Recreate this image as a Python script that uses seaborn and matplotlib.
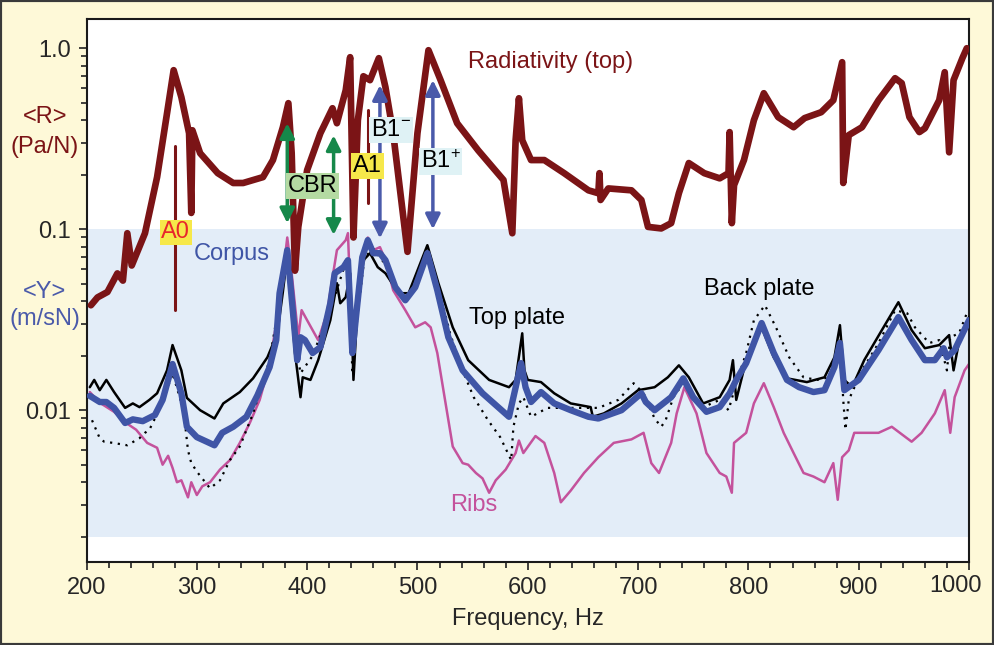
import matplotlib
matplotlib.use("Agg")
import matplotlib.pyplot as plt
import matplotlib.ticker as mticker
import matplotlib.transforms as mtransforms
from matplotlib.patches import Rectangle
import seaborn as sns

# Radiativity of the top plate, <R> in Pa/N
freq_rad = [204, 210, 219, 228, 233, 237, 241, 253, 264, 273, 279, 286, 293, 295, 296, 303, 319, 333, 342, 360,
            369, 378, 383, 386, 389, 392, 400, 412, 423, 427, 435, 439, 442, 446, 451, 457, 465, 471, 478, 491,
            500, 510, 521, 536, 555, 578, 586, 589, 592, 595, 603, 615, 633, 655, 664, 665, 666, 673, 694, 703,
            709, 721, 730, 737, 746, 760, 774, 782, 783, 785, 787, 796, 805, 814, 827, 841, 851, 866, 877, 885,
            886, 891, 903, 918, 933, 939, 946, 955, 960, 973, 978, 982, 986, 994, 998]
rad = [0.038, 0.042, 0.045, 0.057, 0.052, 0.095, 0.063, 0.095, 0.194, 0.437, 0.756, 0.536, 0.339, 0.123, 0.352,
       0.263, 0.204, 0.180, 0.180, 0.194, 0.241, 0.366, 0.497, 0.263, 0.059, 0.103, 0.212, 0.339, 0.466, 0.385,
       0.586, 0.892, 0.090, 0.40, 0.70, 0.666, 0.881, 0.609, 0.339, 0.075, 0.339, 0.975, 0.666, 0.385, 0.273,
       0.187, 0.095, 0.310, 0.529, 0.310, 0.241, 0.241, 0.204, 0.164, 0.158, 0.204, 0.145, 0.168, 0.164, 0.145,
       0.103, 0.101, 0.108, 0.158, 0.232, 0.204, 0.191, 0.204, 0.344, 0.108, 0.175, 0.241, 0.40, 0.564, 0.416,
       0.366, 0.411, 0.443, 0.516, 0.837, 0.180, 0.331, 0.366, 0.516, 0.683, 0.641, 0.416, 0.344, 0.361, 0.516,
       0.737, 0.266, 0.666, 0.881, 1.0]

# Mobilities <Y> in m/sN
freq_corpus = [203, 212, 218, 225, 235, 242, 251, 262, 269, 278, 286, 291, 300, 309, 316, 323, 333, 345, 355, 366,
               372, 375, 382, 387, 391, 394, 398, 405, 412, 421, 425, 433, 437, 441, 444, 450, 455, 460, 466, 471,
               480, 489, 498, 509, 518, 528, 541, 559, 583, 594, 598, 603, 612, 624, 639, 655, 664, 685, 703, 707,
               715, 730, 741, 750, 762, 774, 783, 789, 798, 812, 823, 835, 846, 859, 869, 878, 883, 887, 900, 918,
               936, 948, 960, 969, 977, 980, 987, 1000]
corpus = [0.0120, 0.0111, 0.0111, 0.0103, 0.0085, 0.0089, 0.0087, 0.0094, 0.0114, 0.0180, 0.0124, 0.0081, 0.0071,
          0.0067, 0.0064, 0.0075, 0.0081, 0.0092, 0.0121, 0.0173, 0.0244, 0.0443, 0.0766, 0.0357, 0.0189, 0.0253,
          0.0244, 0.0207, 0.0223, 0.039, 0.0571, 0.0617, 0.0674, 0.0207, 0.0314, 0.070, 0.087, 0.0737, 0.0737,
          0.0674, 0.0478, 0.0405, 0.0478, 0.0737, 0.046, 0.0253, 0.0166, 0.0124, 0.0092, 0.0182, 0.0134, 0.0111,
          0.0126, 0.0109, 0.010, 0.0092, 0.0090, 0.010, 0.0124, 0.0111, 0.010, 0.0118, 0.0150, 0.0118, 0.0098,
          0.0104, 0.0124, 0.0147, 0.0182, 0.0303, 0.0207, 0.0147, 0.0134, 0.0126, 0.0129, 0.0173, 0.0235, 0.0129,
          0.0147, 0.0215, 0.0327, 0.0244, 0.0189, 0.0189, 0.022, 0.0196, 0.0215, 0.0314]

freq_top = [203, 207, 212, 218, 225, 235, 242, 248, 257, 264, 273, 278, 286, 291, 303, 316, 324, 339, 351, 364,
            373, 378, 382, 389, 394, 396, 403, 410, 421, 427, 430, 435, 439, 442, 445, 451, 457, 464, 471, 483,
            492, 509, 519, 532, 546, 565, 583, 589, 595, 597, 600, 612, 624, 639, 657, 659, 669, 685, 700, 715,
            727, 737, 746, 759, 774, 783, 786, 789, 798, 812, 823, 835, 853, 869, 878, 883, 887, 894, 905, 921,
            936, 948, 960, 973, 982, 986, 991, 1000]
top_plate = [0.0134, 0.0147, 0.0129, 0.0147, 0.0126, 0.0103, 0.0109, 0.0104, 0.0114, 0.0124, 0.0166, 0.0229,
             0.0166, 0.0117, 0.0100, 0.0090, 0.0109, 0.0126, 0.0150, 0.0196, 0.0266, 0.045, 0.072, 0.0207, 0.0118,
             0.0152, 0.0147, 0.0189, 0.0314, 0.0503, 0.039, 0.0421, 0.0571, 0.0147, 0.0314, 0.0674, 0.0737, 0.0617,
             0.0571, 0.0443, 0.0443, 0.0816, 0.0503, 0.0287, 0.0189, 0.0147, 0.0134, 0.0147, 0.0266, 0.0166,
             0.0147, 0.0143, 0.0124, 0.0109, 0.0104, 0.0092, 0.0096, 0.0109, 0.0129, 0.0134, 0.0152, 0.0177,
             0.0152, 0.0109, 0.0118, 0.0147, 0.0189, 0.0114, 0.0189, 0.0287, 0.0196, 0.0150, 0.0143, 0.0152,
             0.0196, 0.0295, 0.0147, 0.0134, 0.0189, 0.0277, 0.0395, 0.0277, 0.022, 0.0229, 0.026, 0.0166, 0.024,
             0.0327]

freq_back = [205, 212, 216, 224, 237, 248, 253, 257, 265, 273, 278, 286, 289, 292, 295, 301, 312, 321, 330, 339,
             351, 366, 375, 382, 389, 394, 405, 421, 433, 438, 441, 446, 452, 460, 470, 483, 492, 509, 520, 530,
             542, 551, 564, 575, 585, 587, 592, 596, 603, 618, 633, 664, 682, 696, 705, 715, 721, 725, 732, 741,
             750, 759, 774, 782, 789, 798, 805, 815, 825, 837, 850, 862, 873, 883, 886, 888, 891, 903, 918, 933,
             944, 951, 964, 973, 980, 983, 991, 998]
back_plate = [0.0088, 0.0070, 0.0067, 0.0066, 0.0064, 0.0070, 0.0075, 0.0078, 0.0098, 0.013, 0.016, 0.011, 0.0088,
              0.0060, 0.0051, 0.0045, 0.0037, 0.0041, 0.0053, 0.0063, 0.0096, 0.019, 0.040, 0.075, 0.025, 0.016,
              0.020, 0.036, 0.060, 0.065, 0.016, 0.035, 0.070, 0.078, 0.065, 0.045, 0.042, 0.075, 0.045, 0.026,
              0.016, 0.0118, 0.0088, 0.0071, 0.0053, 0.0081, 0.0109, 0.0118, 0.0092, 0.0103, 0.0103, 0.0103,
              0.0114, 0.0141, 0.0124, 0.0090, 0.0081, 0.0088, 0.0118, 0.0141, 0.0118, 0.0104, 0.0114, 0.0100,
              0.0141, 0.0207, 0.0314, 0.038, 0.0287, 0.0196, 0.0152, 0.0147, 0.0152, 0.025, 0.0114, 0.0078,
              0.0114, 0.0166, 0.0235, 0.0357, 0.0343, 0.0287, 0.0235, 0.0244, 0.0166, 0.0253, 0.0266, 0.0343]

freq_ribs = [203, 212, 225, 236, 245, 255, 264, 269, 274, 278, 282, 286, 292, 295, 300, 305, 312, 321, 330, 339,
             348, 357, 366, 375, 382, 386, 392, 395, 400, 410, 418, 424, 427, 435, 437, 441, 445, 451, 455, 460,
             466, 471, 478, 489, 498, 507, 512, 518, 525, 532, 541, 546, 553, 559, 565, 571, 580, 589, 592, 596,
             607, 615, 624, 630, 639, 651, 664, 678, 694, 705, 712, 719, 730, 735, 742, 753, 762, 774, 780, 785,
             787, 798, 805, 814, 823, 832, 841, 850, 859, 869, 877, 881, 885, 891, 896, 918, 930, 948, 957, 969,
             978, 983, 987, 996, 1000]
ribs = [0.0126, 0.0110, 0.0098, 0.0085, 0.0078, 0.0066, 0.0062, 0.0050, 0.0056, 0.0048, 0.0040, 0.0041, 0.0033,
        0.0040, 0.0034, 0.0038, 0.0040, 0.0047, 0.0053, 0.0066, 0.0085, 0.0114, 0.018, 0.039, 0.090, 0.057,
        0.0253, 0.0357, 0.0314, 0.0244, 0.0343, 0.059, 0.0766, 0.087, 0.0951, 0.022, 0.0314, 0.0737, 0.090,
        0.0766, 0.0796, 0.0674, 0.046, 0.0357, 0.0287, 0.0306, 0.0287, 0.0207, 0.0114, 0.0063, 0.0051, 0.0050,
        0.0045, 0.0042, 0.0035, 0.0041, 0.0047, 0.0058, 0.0068, 0.0058, 0.0072, 0.0066, 0.0045, 0.0031, 0.0036,
        0.0045, 0.0055, 0.0066, 0.0069, 0.0075, 0.0051, 0.0045, 0.0066, 0.0096, 0.0134, 0.0096, 0.0058, 0.0045,
        0.0043, 0.0035, 0.0066, 0.0075, 0.0109, 0.0141, 0.0104, 0.0075, 0.0058, 0.0045, 0.0043, 0.0040, 0.0051,
        0.0032, 0.0055, 0.0060, 0.0075, 0.0075, 0.0081, 0.0067, 0.0075, 0.0096, 0.0129, 0.0075, 0.0118, 0.0166,
        0.018]

# mode markers
modes_green = [382, 424]
modes_blue = [466, 514]

x_ticks = [200, 300, 400, 500, 600, 700, 800, 900, 1000]
x_labels = ["200", "300", "400", "500", "600", "700", "800", "900", ""]

RED = "#7b1416"
BLUE = "#3f55a6"
PINK = "#c4529c"
GREEN = "#16884a"
ARROW_BLUE = "#4a5aaa"

sns.set_style("ticks")
plt.rcParams["font.family"] = ["Liberation Sans", "DejaVu Sans"]
plt.rcParams["mathtext.fontset"] = "custom"
plt.rcParams["mathtext.rm"] = "Liberation Sans"
plt.rcParams["mathtext.it"] = "Liberation Sans"

fig = plt.figure(figsize=(9.94, 6.45), dpi=100, facecolor="#fef9d8")
ax = fig.add_axes([86.5 / 994, 1 - 562 / 645, (969 - 86.5) / 994, (562 - 19) / 645])
ax.set_facecolor("white")
ax.set_yscale("log")
ax.axhspan(0.002, 0.1, color="#e3edf8", zorder=0, lw=0)

sns.lineplot(x=freq_ribs, y=ribs, ax=ax, color=PINK, lw=1.8, estimator=None, sort=False, zorder=2)
sns.lineplot(x=freq_back, y=back_plate, ax=ax, color="black", lw=1.6, ls=(0, (1, 2.5)),
             estimator=None, sort=False, zorder=3)
sns.lineplot(x=freq_top, y=top_plate, ax=ax, color="black", lw=1.8, estimator=None, sort=False, zorder=4)
sns.lineplot(x=freq_corpus, y=corpus, ax=ax, color=BLUE, lw=4.6, estimator=None, sort=False, zorder=5,
             solid_joinstyle="round")
sns.lineplot(x=freq_rad, y=rad, ax=ax, color=RED, lw=4.8, estimator=None, sort=False, zorder=6,
             solid_joinstyle="round", solid_capstyle="round")

# mode lines and arrows
ax.plot([280, 280], [0.036, 0.288], color=RED, lw=2.2, zorder=5)
ax.plot([455, 455], [0.14, 0.455], color=RED, lw=2.2, zorder=5)
for f, (lo, hi) in zip(modes_green, [(0.108, 0.385), (0.093, 0.33)]):
    ax.annotate("", xy=(f, hi), xytext=(f, lo), zorder=7,
                arrowprops=dict(arrowstyle="<|-|>", color=GREEN, lw=2.5, mutation_scale=22, shrinkA=0, shrinkB=0))
for f, (lo, hi) in zip(modes_blue, [(0.089, 0.625), (0.1, 0.666)]):
    ax.annotate("", xy=(f, hi), xytext=(f, lo), zorder=7,
                arrowprops=dict(arrowstyle="<|-|>", color=ARROW_BLUE, lw=2.5, mutation_scale=22, shrinkA=0, shrinkB=0))

fs = 17
ax.text(281, 0.096, "A0", color="#e8262b", fontsize=fs, ha="center", va="center", zorder=8,
        bbox=dict(boxstyle="square,pad=0.08", fc="#f6e84a", ec="none"))
ax.text(405, 0.173, "CBR", color="black", fontsize=fs, ha="center", va="center", zorder=8,
        bbox=dict(boxstyle="square,pad=0.08", fc="#b4daa2", ec="none"))
ax.text(455, 0.223, "A1", color="black", fontsize=fs, ha="center", va="center", zorder=8,
        bbox=dict(boxstyle="square,pad=0.08", fc="#f6e84a", ec="none"))
ax.text(476, 0.352, "B1$^{-}$", color="black", fontsize=fs, ha="center", va="center", zorder=8,
        bbox=dict(boxstyle="square,pad=0.08", fc="#dff2f5", ec="none"))
ax.text(521, 0.237, "B1$^{+}$", color="black", fontsize=fs, ha="center", va="center", zorder=8,
        bbox=dict(boxstyle="square,pad=0.08", fc="#dff2f5", ec="none"))

ax.text(621, 0.837, "Radiativity (top)", color=RED, fontsize=fs, ha="center", va="center")
ax.text(332, 0.0727, "Corpus", color=BLUE, fontsize=fs, ha="center", va="center")
ax.text(590, 0.0323, "Top plate", color="black", fontsize=fs, ha="center", va="center")
ax.text(810, 0.0466, "Back plate", color="black", fontsize=fs, ha="center", va="center")
ax.text(551, 0.0030, "Ribs", color=PINK, fontsize=fs, ha="center", va="center")

ax.set_xlim(200, 1000)
ax.set_ylim(0.00145, 1.45)
ax.set_xticks(x_ticks)
ax.set_xticklabels(x_labels)
ax.xaxis.set_minor_locator(mticker.MultipleLocator(20))
ax.yaxis.set_major_locator(mticker.FixedLocator([0.01, 0.1, 1.0]))
ax.yaxis.set_major_formatter(mticker.FixedFormatter(["0.01", "0.1", "1.0"]))
ax.yaxis.set_minor_locator(mticker.LogLocator(base=10, subs=[2, 3, 4, 5, 6, 7, 8, 9], numticks=30))
ax.yaxis.set_minor_formatter(mticker.NullFormatter())
ax.tick_params(which="major", direction="out", length=6, width=1.2, labelsize=fs, pad=5, color="#222222")
ax.tick_params(which="minor", direction="out", length=4.5, width=1.2, color="#222222",
               bottom=True, left=True)
for sp in ax.spines.values():
    sp.set_linewidth(1.5)
    sp.set_color("#1a1a1a")
ax.set_xlabel("Frequency, Hz", fontsize=fs, labelpad=6)
ax.set_ylabel("")

# the 1000 label sits a little left of its tick, inside the frame
lab_tr = mtransforms.blended_transform_factory(ax.transData, ax.transAxes)
ax.text(988, -0.044, "1000", fontsize=fs, ha="center", va="center", transform=lab_tr, clip_on=False)

fig.text(45 / 994, 1 - 117 / 645, "<R>", color=RED, fontsize=fs, ha="center", va="center")
fig.text(45 / 994, 1 - 147 / 645, "(Pa/N)", color=RED, fontsize=fs, ha="center", va="center")
fig.text(45 / 994, 1 - 292 / 645, "<Y>", color=ARROW_BLUE, fontsize=fs, ha="center", va="center")
fig.text(45 / 994, 1 - 319 / 645, "(m/sN)", color=ARROW_BLUE, fontsize=fs, ha="center", va="center")

fig.patches.append(Rectangle((0, 0), 1, 1, transform=fig.transFigure, fill=False, ec="#3a3a3a", lw=3))

fig.savefig("out.png", dpi=100, facecolor=fig.get_facecolor())
